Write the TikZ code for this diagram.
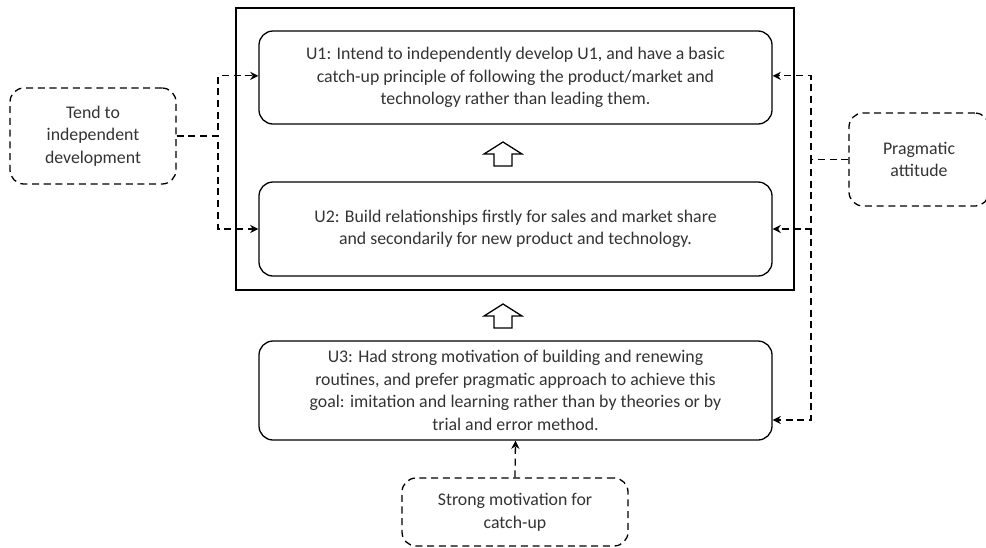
\documentclass[tikz,border=0pt]{standalone}
\usepackage{fontspec}
\setmainfont{Carlito}
\usetikzlibrary{arrows.meta}

\tikzset{
  ubox/.style={draw, rounded corners=12pt, line width=1.1pt, minimum width=15.39cm,
    align=center, text=black!80, font=\fontsize{15.2}{19.3}\selectfont},
  dbox/.style={draw, dashed, dash pattern=on 6pt off 4pt, rounded corners=12pt,
    line width=1.1pt, align=center, text=black!80, font=\fontsize{15.2}{19.3}\selectfont},
  link/.style={dash pattern=on 6pt off 4pt, line width=1.1pt, -{Stealth[length=7pt,width=7pt]}},
}

\begin{document}
\begin{tikzpicture}[x=0.03cm, y=-0.03cm]
  \useasboundingbox (0,0) rectangle (986,547);

  % outer frame and the three U boxes
  \node[draw, line width=1.1pt, minimum width=16.74cm, minimum height=8.46cm] (frame) at (515,149) {};
  \node[ubox, minimum height=2.79cm] (u1) at (515.5,77.5)
    {U1: Intend to independently develop U1, and have a basic\\
     catch-up principle of following the product/market and\\
     technology rather than leading them.};
  \node[ubox, minimum height=2.82cm] (u2) at (515.5,229)
    {U2: Build relationships firstly for sales and market share\\
     and secondarily for new product and technology.};
  \node[ubox, minimum height=2.97cm] (u3) at (515.5,390.5)
    {U3: Had strong motivation of building and renewing\\
     routines, and prefer pragmatic approach to achieve this\\
     goal: imitation and learning rather than by theories or by\\
     trial and error method.};

  % dashed factor boxes
  \node[dbox, minimum width=4.98cm, minimum height=2.88cm] (tend) at (93,136)
    {Tend to\\ independent\\ development};
  \node[dbox, minimum width=4.2cm, minimum height=2.79cm] (prag) at (919,159.5)
    {Pragmatic\\ attitude};
  \node[dbox, minimum width=6.78cm, minimum height=2.04cm] (strong) at (515,512)
    {Strong motivation for\\ catch-up};

  % hollow up arrows
  \foreach \t in {142,304}
    \draw[line width=1.1pt] (503,\t) -- (522,\t+12) -- (512,\t+12) -- (512,\t+24)
      -- (494,\t+24) -- (494,\t+12) -- (484,\t+12) -- cycle;

  % dashed links
  \draw[link] (tend.east) -- (218,136) |- ([yshift=0.05cm]u1.west);
  \draw[link] (tend.east) -- (218,136) |- (u2.west);
  \draw[link] (prag.west) -- (811,159.5) |- ([yshift=0.05cm]u1.east);
  \draw[link] (prag.west) -- (811,159.5) |- (u2.east);
  \draw[link] (prag.west) -- (811,159.5) |- ([yshift=-0.885cm]u3.east);
  \draw[link] (strong.north) -- (u3.south);
\end{tikzpicture}
\end{document}
